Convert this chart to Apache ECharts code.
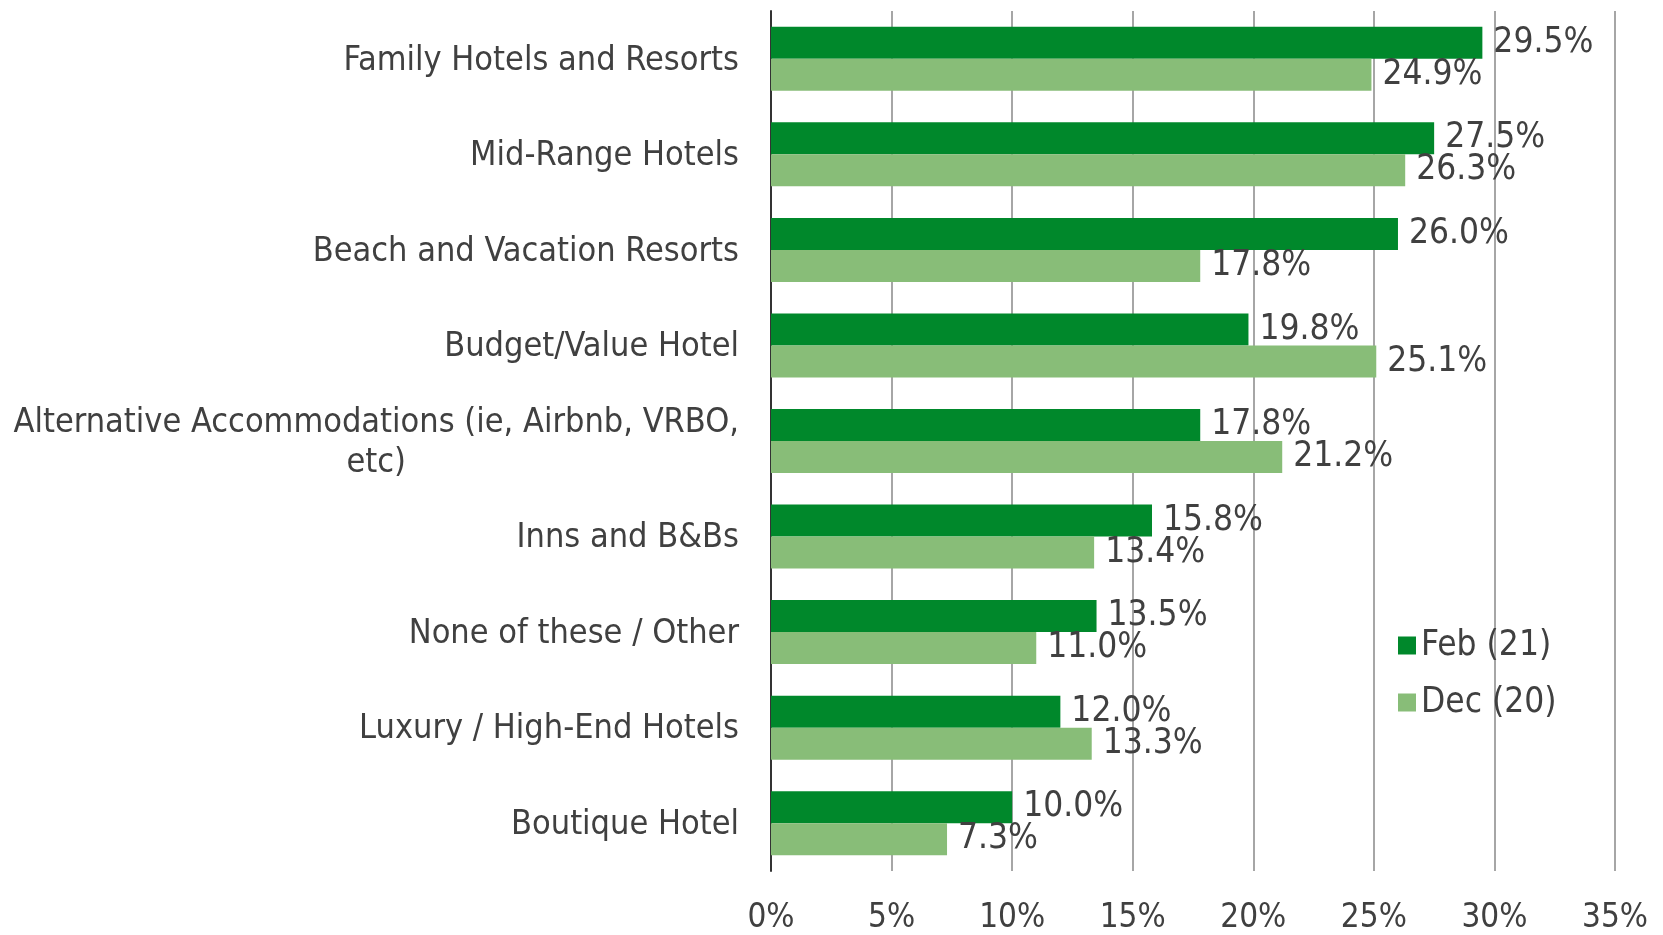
<!DOCTYPE html>
<html>
<head>
<meta charset="utf-8">
<script src="https://cdn.jsdelivr.net/npm/echarts@6/dist/echarts.min.js"></script>
<style>
  html, body { margin: 0; padding: 0; background: #fff; }
  #chart { width: 1663px; height: 935px; }
</style>
</head>
<body>
<div id="chart"></div>
<script>
const categories = [
  "Family Hotels and Resorts",
  "Mid-Range Hotels",
  "Beach and Vacation Resorts",
  "Budget/Value Hotel",
  "Alternative Accommodations (ie, Airbnb, VRBO,\netc)",
  "Inns and B&Bs",
  "None of these / Other",
  "Luxury / High-End Hotels",
  "Boutique Hotel"
];
const feb21 = [29.5, 27.5, 26.0, 19.8, 17.8, 15.8, 13.5, 12.0, 10.0];
const dec20 = [24.9, 26.3, 17.8, 25.1, 21.2, 13.4, 11.0, 13.3, 7.3];
const seriesNames = ["Feb (21)", "Dec (20)"];

const fontFamily = "'DejaVu Sans Condensed', 'DejaVu Sans', sans-serif";
const textColor = "#404040";

const chart = echarts.init(document.getElementById("chart"));

const labelStyle = {
  show: true,
  position: "right",
  distance: 11,
  color: textColor,
  fontSize: 35,
  fontFamily,
  formatter: (p) => p.value.toFixed(1) + "%",
};

chart.setOption({
  animation: false,
  grid: {
    left: 771,
    right: 48,
    top: 11,
    bottom: 61,
  },
  legend: {
    orient: "vertical",
    left: 1393,
    top: 623,
    itemWidth: 18,
    itemHeight: 18,
    itemGap: 22,
    icon: "rect",
    textStyle: { color: textColor, fontSize: 35, fontFamily },
    data: seriesNames,
  },
  xAxis: {
    type: "value",
    min: 0,
    max: 35,
    interval: 5,
    axisLine: { show: false },
    axisTick: { show: false },
    axisLabel: {
      formatter: "{value}%",
      color: textColor,
      fontSize: 33,
      fontFamily,
      margin: 31,
    },
    splitLine: { lineStyle: { color: "#a6a6a6", width: 2 } },
  },
  yAxis: {
    type: "category",
    inverse: true,
    data: categories,
    axisLine: { show: true, lineStyle: { color: "#333", width: 2 } },
    axisTick: { show: false },
    axisLabel: {
      margin: 32,
      // wrapped labels are centred line by line, like the original
      formatter: (v) => v.split("\n").map((s) => "{c|" + s + "}").join("\n"),
      rich: {
        c: {
          align: "center",
          color: textColor,
          fontSize: 34,
          fontFamily,
          lineHeight: 40,
          padding: [4, 0, 0, 0],
        },
      },
    },
  },
  series: [
    {
      name: seriesNames[0],
      type: "bar",
      data: feb21,
      barWidth: 32,
      barGap: "0%",
      itemStyle: { color: "#00882b" },
      label: labelStyle,
    },
    {
      name: seriesNames[1],
      type: "bar",
      data: dec20,
      barWidth: 32,
      barGap: "0%",
      itemStyle: { color: "#88bd78" },
      label: labelStyle,
    },
  ],
});
</script>
</body>
</html>
